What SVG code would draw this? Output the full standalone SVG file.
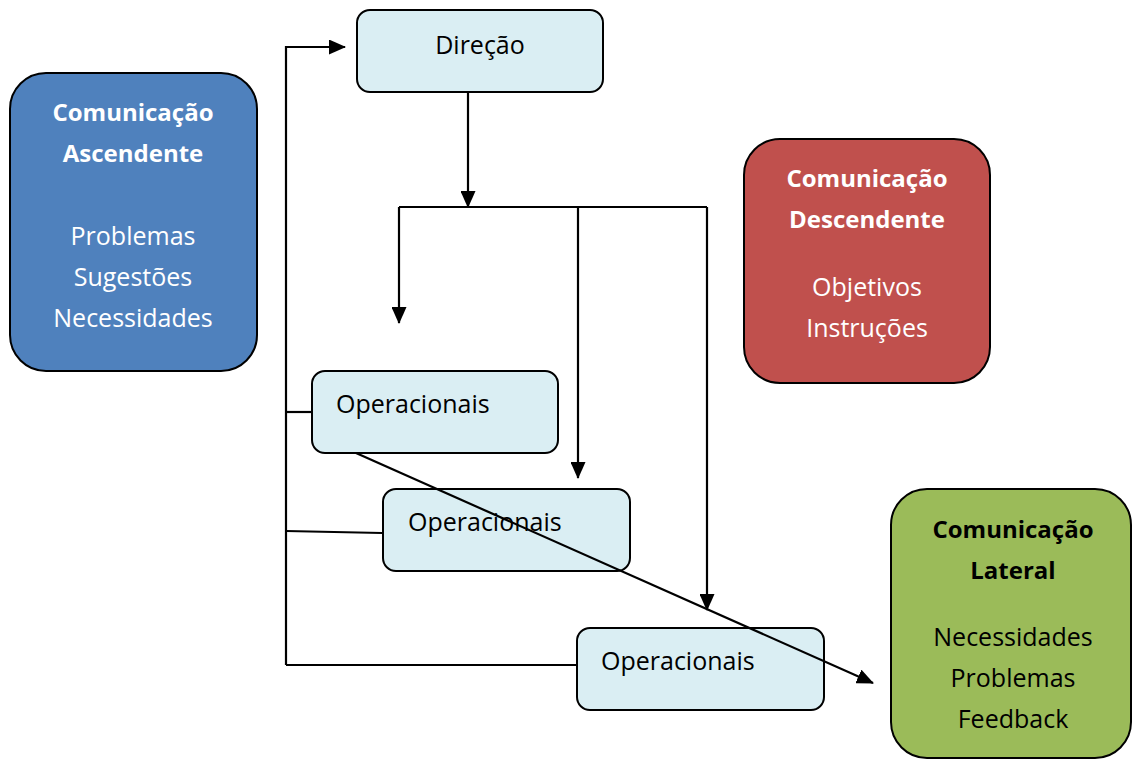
<svg xmlns="http://www.w3.org/2000/svg" width="1132" height="759" viewBox="0 0 1132 759">
<style>
.box{stroke:#000;stroke-width:2}
.op{fill:#DAEEF3}
.t{font-family:"Open Sans","Noto Sans",sans-serif;font-size:25px}
.w{fill:#fff}
.k{fill:#000}
.b{font-weight:bold;font-size:24px}
.c{stroke:#000;stroke-width:2.2;fill:none}
</style>
<defs>
<marker id="ar" markerUnits="userSpaceOnUse" markerWidth="17" markerHeight="15" refX="16" refY="7.5" orient="auto">
<path d="M0,0 L17,7.5 L0,15 Z" fill="#000"/>
</marker>
</defs>
<g id="ascendente">
<rect class="box" x="10" y="73" width="247" height="298" rx="36" fill="#4F81BD"/>
<text class="t w b" x="133" y="121" text-anchor="middle">Comunicação</text>
<text class="t w b" x="133" y="162" text-anchor="middle">Ascendente</text>
<text class="t w" x="133" y="245" text-anchor="middle">Problemas</text>
<text class="t w" x="133" y="286" text-anchor="middle">Sugestões</text>
<text class="t w" x="133" y="327" text-anchor="middle">Necessidades</text>
</g>
<g id="descendente">
<rect class="box" x="744" y="139" width="246" height="244" rx="36" fill="#C0504D"/>
<text class="t w b" x="867" y="187" text-anchor="middle">Comunicação</text>
<text class="t w b" x="867" y="228" text-anchor="middle">Descendente</text>
<text class="t w" x="867" y="296" text-anchor="middle">Objetivos</text>
<text class="t w" x="867" y="337" text-anchor="middle">Instruções</text>
</g>
<g id="lateral">
<rect class="box" x="891" y="489" width="240" height="269" rx="36" fill="#9BBB59"/>
<text class="t k b" x="1013" y="538" text-anchor="middle">Comunicação</text>
<text class="t k b" x="1013" y="579" text-anchor="middle">Lateral</text>
<text class="t k" x="1013" y="646" text-anchor="middle">Necessidades</text>
<text class="t k" x="1013" y="687" text-anchor="middle">Problemas</text>
<text class="t k" x="1013" y="728" text-anchor="middle">Feedback</text>
</g>
<g id="direcao">
<rect class="box op" x="357" y="10" width="246" height="82" rx="13"/>
<text class="t k" x="480" y="54" text-anchor="middle">Direção</text>
</g>
<g id="op1">
<rect class="box op" x="312" y="371" width="246" height="82" rx="13"/>
<text class="t k" x="336" y="413">Operacionais</text>
</g>
<g id="op2">
<rect class="box op" x="383" y="489" width="247" height="82" rx="13"/>
<text class="t k" x="408" y="531">Operacionais</text>
</g>
<g id="op3">
<rect class="box op" x="577" y="628" width="247" height="82" rx="13"/>
<text class="t k" x="601" y="670">Operacionais</text>
</g>
<g id="connectors">
<path class="c" d="M468,92 V207" marker-end="url(#ar)"/>
<path class="c" d="M399,207 H707"/>
<path class="c" d="M399,207 V323" marker-end="url(#ar)"/>
<path class="c" d="M578,207 V478" marker-end="url(#ar)"/>
<path class="c" d="M707,207 V610" marker-end="url(#ar)"/>
<path class="c" d="M286,665 V47 H345" marker-end="url(#ar)"/>
<path class="c" d="M286,412 H311"/>
<path class="c" d="M286,531 L382,533"/>
<path class="c" d="M286,665 H576"/>
<path class="c" d="M356,453 L873,683" marker-end="url(#ar)"/>
</g>
</svg>
